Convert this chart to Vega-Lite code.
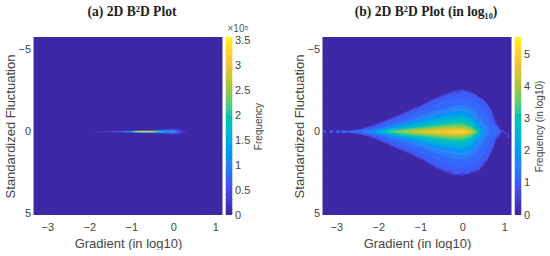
{
"$schema":"https://vega.github.io/schema/vega-lite/v6.json",
"padding":{"left":4.5,"top":5,"right":0,"bottom":0},
"background":"white",
"resolve":{"scale":{"color":"independent"}},
"config":{"view":{"stroke":null},"font":"Liberation Sans",
"axis":{"labelColor":"#454545","titleColor":"#454545","grid":false,"domain":false,"ticks":false,"labelFont":"Liberation Sans","titleFont":"Liberation Sans","titleFontWeight":"normal"},
"title":{"font":"Liberation Serif","fontWeight":"bold","fontSize":13.6,"color":"#222222"}},
"datasets":{
"a":[
{"g":-2,"v":0.08,"lo":-0.02,"hi":0.02},{"g":-1.6,"v":0.08,"lo":-0.05,"hi":0.05},{"g":-1,"v":0.08,"lo":-0.09,"hi":0.09},{"g":-0.5,"v":0.08,"lo":-0.13,"hi":0.13},{"g":-0.2,"v":0.08,"lo":-0.19,"hi":0.19},{"g":0,"v":0.08,"lo":-0.24,"hi":0.24},{"g":0.2,"v":0.08,"lo":-0.18,"hi":0.18},{"g":0.33,"v":0.08,"lo":-0.03,"hi":0.03},
{"g":-1.8,"v":0.2,"lo":-0.02,"hi":0.02},{"g":-1.4,"v":0.2,"lo":-0.05,"hi":0.05},{"g":-1,"v":0.2,"lo":-0.07,"hi":0.07},{"g":-0.6,"v":0.2,"lo":-0.1,"hi":0.1},{"g":-0.2,"v":0.2,"lo":-0.15,"hi":0.15},{"g":0,"v":0.2,"lo":-0.18,"hi":0.18},{"g":0.15,"v":0.2,"lo":-0.14,"hi":0.14},{"g":0.27,"v":0.2,"lo":-0.03,"hi":0.03},
{"g":-1.5,"v":0.5,"lo":-0.02,"hi":0.02},{"g":-1.2,"v":0.5,"lo":-0.04,"hi":0.04},{"g":-0.8,"v":0.5,"lo":-0.06,"hi":0.06},{"g":-0.4,"v":0.5,"lo":-0.09,"hi":0.09},{"g":-0.2,"v":0.5,"lo":-0.11,"hi":0.11},{"g":0,"v":0.5,"lo":-0.13,"hi":0.13},{"g":0.12,"v":0.5,"lo":-0.08,"hi":0.08},{"g":0.2,"v":0.5,"lo":-0.02,"hi":0.02},
{"g":-1.2,"v":1,"lo":-0.02,"hi":0.02},{"g":-0.8,"v":1,"lo":-0.05,"hi":0.05},{"g":-0.4,"v":1,"lo":-0.06,"hi":0.06},{"g":-0.2,"v":1,"lo":-0.08,"hi":0.08},{"g":0,"v":1,"lo":-0.09,"hi":0.09},{"g":0.1,"v":1,"lo":-0.03,"hi":0.03},
{"g":-1,"v":1.8,"lo":-0.03,"hi":0.03},{"g":-0.8,"v":1.8,"lo":-0.05,"hi":0.05},{"g":-0.6,"v":1.8,"lo":-0.055,"hi":0.055},{"g":-0.4,"v":1.8,"lo":-0.05,"hi":0.05},{"g":-0.2,"v":1.8,"lo":-0.03,"hi":0.03},
{"g":-0.95,"v":3,"lo":-0.015,"hi":0.015},{"g":-0.75,"v":3,"lo":-0.035,"hi":0.035},{"g":-0.55,"v":3,"lo":-0.035,"hi":0.035},{"g":-0.35,"v":3,"lo":-0.015,"hi":0.015}
],
"b":[
{"g":-2.7,"v":0.45,"lo":-0.05,"hi":0.05},{"g":-2.4,"v":0.45,"lo":-0.18,"hi":0.2},{"g":-2.2,"v":0.45,"lo":-0.36,"hi":0.34},{"g":-2,"v":0.45,"lo":-0.54,"hi":0.54},{"g":-1.8,"v":0.45,"lo":-0.74,"hi":0.75},{"g":-1.6,"v":0.45,"lo":-0.94,"hi":1},{"g":-1.4,"v":0.45,"lo":-1.16,"hi":1.2},{"g":-1.2,"v":0.45,"lo":-1.4,"hi":1.42},{"g":-1,"v":0.45,"lo":-1.6,"hi":1.68},{"g":-0.8,"v":0.45,"lo":-1.88,"hi":1.96},{"g":-0.6,"v":0.45,"lo":-2.12,"hi":2.26},{"g":-0.4,"v":0.45,"lo":-2.32,"hi":2.48},{"g":-0.2,"v":0.45,"lo":-2.52,"hi":2.66},{"g":0,"v":0.45,"lo":-2.6,"hi":2.7},{"g":0.2,"v":0.45,"lo":-2.45,"hi":2.56},{"g":0.4,"v":0.45,"lo":-2.14,"hi":2.4},{"g":0.6,"v":0.45,"lo":-1.72,"hi":1.76},{"g":0.7,"v":0.45,"lo":-1.3,"hi":1.26},{"g":0.8,"v":0.45,"lo":-0.6,"hi":0.55},{"g":0.9,"v":0.45,"lo":-0.2,"hi":0.22},{"g":0.95,"v":0.45,"lo":-0.05,"hi":0.05},
{"g":-2.8,"v":0.9,"lo":-0.05,"hi":0.05},{"g":-2.7,"v":0.9,"lo":-0.06,"hi":0.06},{"g":-2.6,"v":0.9,"lo":-0.08,"hi":0.08},{"g":-2.5,"v":0.9,"lo":-0.1,"hi":0.1},{"g":-2.4,"v":0.9,"lo":-0.14,"hi":0.16},{"g":-2.3,"v":0.9,"lo":-0.2,"hi":0.2},{"g":-2.2,"v":0.9,"lo":-0.28,"hi":0.26},{"g":-2.1,"v":0.9,"lo":-0.34,"hi":0.38},{"g":-2,"v":0.9,"lo":-0.46,"hi":0.44},{"g":-1.9,"v":0.9,"lo":-0.55,"hi":0.6},{"g":-1.8,"v":0.9,"lo":-0.68,"hi":0.65},{"g":-1.7,"v":0.9,"lo":-0.76,"hi":0.82},{"g":-1.6,"v":0.9,"lo":-0.88,"hi":0.9},{"g":-1.5,"v":0.9,"lo":-0.96,"hi":1.05},{"g":-1.4,"v":0.9,"lo":-1.08,"hi":1.12},{"g":-1.3,"v":0.9,"lo":-1.18,"hi":1.25},{"g":-1.2,"v":0.9,"lo":-1.3,"hi":1.32},{"g":-1.1,"v":0.9,"lo":-1.42,"hi":1.5},{"g":-1,"v":0.9,"lo":-1.52,"hi":1.58},{"g":-0.9,"v":0.9,"lo":-1.68,"hi":1.72},{"g":-0.8,"v":0.9,"lo":-1.78,"hi":1.88},{"g":-0.7,"v":0.9,"lo":-1.92,"hi":1.98},{"g":-0.6,"v":0.9,"lo":-2.02,"hi":2.18},{"g":-0.5,"v":0.9,"lo":-2.12,"hi":2.25},{"g":-0.4,"v":0.9,"lo":-2.22,"hi":2.4},{"g":-0.3,"v":0.9,"lo":-2.32,"hi":2.42},{"g":-0.2,"v":0.9,"lo":-2.42,"hi":2.55},{"g":-0.1,"v":0.9,"lo":-2.38,"hi":2.6},{"g":0,"v":0.9,"lo":-2.52,"hi":2.5},{"g":0.1,"v":0.9,"lo":-2.4,"hi":2.6},{"g":0.2,"v":0.9,"lo":-2.34,"hi":2.45},{"g":0.3,"v":0.9,"lo":-2.3,"hi":2.35},{"g":0.4,"v":0.9,"lo":-2.05,"hi":2.3},{"g":0.5,"v":0.9,"lo":-1.95,"hi":1.9},{"g":0.6,"v":0.9,"lo":-1.62,"hi":1.65},{"g":0.7,"v":0.9,"lo":-1.2,"hi":1.15},{"g":0.75,"v":0.9,"lo":-0.7,"hi":0.8},{"g":0.8,"v":0.9,"lo":-0.45,"hi":0.4},{"g":0.85,"v":0.9,"lo":-0.25,"hi":0.25},{"g":0.9,"v":0.9,"lo":-0.1,"hi":0.12},
{"g":-2.6,"v":1.1,"lo":-0.06,"hi":0.06},{"g":-2.4,"v":1.1,"lo":-0.08,"hi":0.08},{"g":-2.2,"v":1.1,"lo":-0.15,"hi":0.15},{"g":-2,"v":1.1,"lo":-0.3,"hi":0.3},{"g":-1.8,"v":1.1,"lo":-0.48,"hi":0.48},{"g":-1.6,"v":1.1,"lo":-0.65,"hi":0.68},{"g":-1.4,"v":1.1,"lo":-0.85,"hi":0.88},{"g":-1.2,"v":1.1,"lo":-1.05,"hi":1.1},{"g":-1,"v":1.1,"lo":-1.25,"hi":1.3},{"g":-0.8,"v":1.1,"lo":-1.5,"hi":1.55},{"g":-0.6,"v":1.1,"lo":-1.7,"hi":1.78},{"g":-0.4,"v":1.1,"lo":-1.9,"hi":2},{"g":-0.2,"v":1.1,"lo":-2.05,"hi":2.15},{"g":0,"v":1.1,"lo":-2.1,"hi":2.2},{"g":0.2,"v":1.1,"lo":-2,"hi":2.1},{"g":0.4,"v":1.1,"lo":-1.65,"hi":1.72},{"g":0.6,"v":1.1,"lo":-1.1,"hi":1.15},{"g":0.7,"v":1.1,"lo":-0.6,"hi":0.6},{"g":0.8,"v":1.1,"lo":-0.2,"hi":0.2},{"g":0.85,"v":1.1,"lo":-0.05,"hi":0.05},
{"g":-2.4,"v":1.45,"lo":-0.05,"hi":0.05},{"g":-2.2,"v":1.45,"lo":-0.1,"hi":0.1},{"g":-2,"v":1.45,"lo":-0.2,"hi":0.2},{"g":-1.8,"v":1.45,"lo":-0.33,"hi":0.33},{"g":-1.6,"v":1.45,"lo":-0.47,"hi":0.47},{"g":-1.4,"v":1.45,"lo":-0.62,"hi":0.62},{"g":-1.2,"v":1.45,"lo":-0.78,"hi":0.8},{"g":-1,"v":1.45,"lo":-0.95,"hi":0.98},{"g":-0.8,"v":1.45,"lo":-1.15,"hi":1.18},{"g":-0.6,"v":1.45,"lo":-1.3,"hi":1.35},{"g":-0.4,"v":1.45,"lo":-1.45,"hi":1.5},{"g":-0.2,"v":1.45,"lo":-1.6,"hi":1.65},{"g":0,"v":1.45,"lo":-1.65,"hi":1.7},{"g":0.2,"v":1.45,"lo":-1.5,"hi":1.55},{"g":0.4,"v":1.45,"lo":-1,"hi":1.05},{"g":0.6,"v":1.45,"lo":-0.3,"hi":0.3},{"g":0.65,"v":1.45,"lo":-0.05,"hi":0.05},
{"g":-2.3,"v":1.6,"lo":-0.05,"hi":0.05},{"g":-2,"v":1.6,"lo":-0.16,"hi":0.16},{"g":-1.8,"v":1.6,"lo":-0.27,"hi":0.27},{"g":-1.6,"v":1.6,"lo":-0.39,"hi":0.39},{"g":-1.4,"v":1.6,"lo":-0.53,"hi":0.53},{"g":-1.2,"v":1.6,"lo":-0.67,"hi":0.67},{"g":-1,"v":1.6,"lo":-0.82,"hi":0.82},{"g":-0.8,"v":1.6,"lo":-1,"hi":1},{"g":-0.6,"v":1.6,"lo":-1.15,"hi":1.15},{"g":-0.4,"v":1.6,"lo":-1.27,"hi":1.27},{"g":-0.2,"v":1.6,"lo":-1.4,"hi":1.4},{"g":0,"v":1.6,"lo":-1.45,"hi":1.45},{"g":0.2,"v":1.6,"lo":-1.3,"hi":1.3},{"g":0.4,"v":1.6,"lo":-0.75,"hi":0.75},{"g":0.55,"v":1.6,"lo":-0.15,"hi":0.15},
{"g":-2.2,"v":1.8,"lo":-0.05,"hi":0.05},{"g":-2,"v":1.8,"lo":-0.13,"hi":0.13},{"g":-1.8,"v":1.8,"lo":-0.22,"hi":0.22},{"g":-1.6,"v":1.8,"lo":-0.33,"hi":0.33},{"g":-1.4,"v":1.8,"lo":-0.45,"hi":0.45},{"g":-1.2,"v":1.8,"lo":-0.57,"hi":0.57},{"g":-1,"v":1.8,"lo":-0.7,"hi":0.7},{"g":-0.8,"v":1.8,"lo":-0.85,"hi":0.85},{"g":-0.6,"v":1.8,"lo":-1,"hi":1},{"g":-0.4,"v":1.8,"lo":-1.1,"hi":1.1},{"g":-0.2,"v":1.8,"lo":-1.2,"hi":1.2},{"g":0,"v":1.8,"lo":-1.25,"hi":1.25},{"g":0.2,"v":1.8,"lo":-1.1,"hi":1.1},{"g":0.4,"v":1.8,"lo":-0.5,"hi":0.5},{"g":0.5,"v":1.8,"lo":-0.1,"hi":0.1},
{"g":-2.1,"v":2.05,"lo":-0.05,"hi":0.05},{"g":-1.8,"v":2.05,"lo":-0.18,"hi":0.18},{"g":-1.6,"v":2.05,"lo":-0.28,"hi":0.28},{"g":-1.4,"v":2.05,"lo":-0.38,"hi":0.38},{"g":-1.2,"v":2.05,"lo":-0.49,"hi":0.49},{"g":-1,"v":2.05,"lo":-0.61,"hi":0.61},{"g":-0.8,"v":2.05,"lo":-0.74,"hi":0.74},{"g":-0.6,"v":2.05,"lo":-0.87,"hi":0.87},{"g":-0.4,"v":2.05,"lo":-0.96,"hi":0.96},{"g":-0.2,"v":2.05,"lo":-1.06,"hi":1.06},{"g":0,"v":2.05,"lo":-1.1,"hi":1.1},{"g":0.2,"v":2.05,"lo":-0.92,"hi":0.92},{"g":0.4,"v":2.05,"lo":-0.35,"hi":0.35},{"g":0.48,"v":2.05,"lo":-0.05,"hi":0.05},
{"g":-2,"v":2.3,"lo":-0.07,"hi":0.07},{"g":-1.8,"v":2.3,"lo":-0.14,"hi":0.14},{"g":-1.6,"v":2.3,"lo":-0.23,"hi":0.23},{"g":-1.4,"v":2.3,"lo":-0.32,"hi":0.32},{"g":-1.2,"v":2.3,"lo":-0.42,"hi":0.42},{"g":-1,"v":2.3,"lo":-0.52,"hi":0.52},{"g":-0.8,"v":2.3,"lo":-0.63,"hi":0.63},{"g":-0.6,"v":2.3,"lo":-0.74,"hi":0.74},{"g":-0.4,"v":2.3,"lo":-0.83,"hi":0.83},{"g":-0.2,"v":2.3,"lo":-0.92,"hi":0.92},{"g":0,"v":2.3,"lo":-0.95,"hi":0.95},{"g":0.2,"v":2.3,"lo":-0.75,"hi":0.75},{"g":0.4,"v":2.3,"lo":-0.2,"hi":0.2},{"g":0.45,"v":2.3,"lo":-0.05,"hi":0.05},
{"g":-1.9,"v":2.55,"lo":-0.05,"hi":0.05},{"g":-1.8,"v":2.55,"lo":-0.11,"hi":0.11},{"g":-1.6,"v":2.55,"lo":-0.19,"hi":0.19},{"g":-1.4,"v":2.55,"lo":-0.27,"hi":0.27},{"g":-1.2,"v":2.55,"lo":-0.36,"hi":0.36},{"g":-1,"v":2.55,"lo":-0.44,"hi":0.44},{"g":-0.8,"v":2.55,"lo":-0.54,"hi":0.54},{"g":-0.6,"v":2.55,"lo":-0.63,"hi":0.63},{"g":-0.4,"v":2.55,"lo":-0.72,"hi":0.72},{"g":-0.2,"v":2.55,"lo":-0.8,"hi":0.8},{"g":0,"v":2.55,"lo":-0.82,"hi":0.82},{"g":0.2,"v":2.55,"lo":-0.62,"hi":0.62},{"g":0.4,"v":2.55,"lo":-0.12,"hi":0.12},{"g":0.42,"v":2.55,"lo":-0.05,"hi":0.05},
{"g":-1.8,"v":2.8,"lo":-0.08,"hi":0.08},{"g":-1.6,"v":2.8,"lo":-0.15,"hi":0.15},{"g":-1.4,"v":2.8,"lo":-0.22,"hi":0.22},{"g":-1.2,"v":2.8,"lo":-0.3,"hi":0.3},{"g":-1,"v":2.8,"lo":-0.37,"hi":0.37},{"g":-0.8,"v":2.8,"lo":-0.45,"hi":0.45},{"g":-0.6,"v":2.8,"lo":-0.53,"hi":0.53},{"g":-0.4,"v":2.8,"lo":-0.61,"hi":0.61},{"g":-0.2,"v":2.8,"lo":-0.68,"hi":0.68},{"g":0,"v":2.8,"lo":-0.7,"hi":0.7},{"g":0.2,"v":2.8,"lo":-0.5,"hi":0.5},{"g":0.4,"v":2.8,"lo":-0.06,"hi":0.06},
{"g":-1.7,"v":3.05,"lo":-0.05,"hi":0.05},{"g":-1.6,"v":3.05,"lo":-0.11,"hi":0.11},{"g":-1.4,"v":3.05,"lo":-0.18,"hi":0.18},{"g":-1.2,"v":3.05,"lo":-0.25,"hi":0.25},{"g":-1,"v":3.05,"lo":-0.31,"hi":0.31},{"g":-0.8,"v":3.05,"lo":-0.38,"hi":0.38},{"g":-0.6,"v":3.05,"lo":-0.45,"hi":0.45},{"g":-0.4,"v":3.05,"lo":-0.52,"hi":0.52},{"g":-0.2,"v":3.05,"lo":-0.58,"hi":0.58},{"g":0,"v":3.05,"lo":-0.6,"hi":0.6},{"g":0.2,"v":3.05,"lo":-0.4,"hi":0.4},{"g":0.38,"v":3.05,"lo":-0.05,"hi":0.05},
{"g":-1.8,"v":3.3,"lo":-0.04,"hi":0.04},{"g":-1.6,"v":3.3,"lo":-0.08,"hi":0.08},{"g":-1.4,"v":3.3,"lo":-0.14,"hi":0.14},{"g":-1.2,"v":3.3,"lo":-0.2,"hi":0.2},{"g":-1,"v":3.3,"lo":-0.26,"hi":0.26},{"g":-0.8,"v":3.3,"lo":-0.32,"hi":0.32},{"g":-0.6,"v":3.3,"lo":-0.38,"hi":0.38},{"g":-0.4,"v":3.3,"lo":-0.44,"hi":0.44},{"g":-0.2,"v":3.3,"lo":-0.49,"hi":0.49},{"g":0,"v":3.3,"lo":-0.5,"hi":0.5},{"g":0.2,"v":3.3,"lo":-0.32,"hi":0.32},{"g":0.35,"v":3.3,"lo":-0.05,"hi":0.05},
{"g":-1.5,"v":3.55,"lo":-0.05,"hi":0.05},{"g":-1.4,"v":3.55,"lo":-0.1,"hi":0.1},{"g":-1.2,"v":3.55,"lo":-0.16,"hi":0.16},{"g":-1,"v":3.55,"lo":-0.21,"hi":0.21},{"g":-0.8,"v":3.55,"lo":-0.26,"hi":0.26},{"g":-0.6,"v":3.55,"lo":-0.32,"hi":0.32},{"g":-0.4,"v":3.55,"lo":-0.37,"hi":0.37},{"g":-0.2,"v":3.55,"lo":-0.41,"hi":0.41},{"g":0,"v":3.55,"lo":-0.41,"hi":0.41},{"g":0.2,"v":3.55,"lo":-0.25,"hi":0.25},{"g":0.33,"v":3.55,"lo":-0.04,"hi":0.04},
{"g":-1.6,"v":3.8,"lo":-0.03,"hi":0.03},{"g":-1.4,"v":3.8,"lo":-0.07,"hi":0.07},{"g":-1.2,"v":3.8,"lo":-0.12,"hi":0.12},{"g":-1,"v":3.8,"lo":-0.17,"hi":0.17},{"g":-0.8,"v":3.8,"lo":-0.21,"hi":0.21},{"g":-0.6,"v":3.8,"lo":-0.26,"hi":0.26},{"g":-0.4,"v":3.8,"lo":-0.3,"hi":0.3},{"g":-0.2,"v":3.8,"lo":-0.33,"hi":0.33},{"g":0,"v":3.8,"lo":-0.33,"hi":0.33},{"g":0.2,"v":3.8,"lo":-0.18,"hi":0.18},{"g":0.3,"v":3.8,"lo":-0.03,"hi":0.03},
{"g":-1.2,"v":4.05,"lo":-0.05,"hi":0.05},{"g":-1,"v":4.05,"lo":-0.11,"hi":0.11},{"g":-0.8,"v":4.05,"lo":-0.16,"hi":0.16},{"g":-0.6,"v":4.05,"lo":-0.2,"hi":0.2},{"g":-0.4,"v":4.05,"lo":-0.24,"hi":0.24},{"g":-0.2,"v":4.05,"lo":-0.27,"hi":0.27},{"g":0,"v":4.05,"lo":-0.27,"hi":0.27},{"g":0.2,"v":4.05,"lo":-0.13,"hi":0.13},{"g":0.28,"v":4.05,"lo":-0.03,"hi":0.03},
{"g":-1.2,"v":4.3,"lo":-0.03,"hi":0.03},{"g":-1,"v":4.3,"lo":-0.07,"hi":0.07},{"g":-0.8,"v":4.3,"lo":-0.11,"hi":0.11},{"g":-0.6,"v":4.3,"lo":-0.15,"hi":0.15},{"g":-0.4,"v":4.3,"lo":-0.19,"hi":0.19},{"g":-0.2,"v":4.3,"lo":-0.22,"hi":0.22},{"g":0,"v":4.3,"lo":-0.22,"hi":0.22},{"g":0.2,"v":4.3,"lo":-0.08,"hi":0.08},{"g":0.25,"v":4.3,"lo":-0.02,"hi":0.02},
{"g":-0.8,"v":4.7,"lo":-0.03,"hi":0.03},{"g":-0.6,"v":4.7,"lo":-0.05,"hi":0.05},{"g":-0.4,"v":4.7,"lo":-0.09,"hi":0.09},{"g":-0.2,"v":4.7,"lo":-0.13,"hi":0.13},{"g":0,"v":4.7,"lo":-0.13,"hi":0.13},{"g":0.15,"v":4.7,"lo":-0.03,"hi":0.03},
{"g":-0.3,"v":5,"lo":-0.03,"hi":0.03},{"g":-0.1,"v":5,"lo":-0.06,"hi":0.06},{"g":0,"v":5,"lo":-0.06,"hi":0.06},{"g":0.1,"v":5,"lo":-0.02,"hi":0.02}
],
"dots":[
{"g":-3.31,"g2":-3.25,"lo":-0.08,"hi":0.08,"v":0.8},{"g":-3.16,"g2":-3.09,"lo":-0.08,"hi":0.08,"v":1},{"g":-3,"g2":-2.92,"lo":-0.08,"hi":0.08,"v":1},{"g":-2.88,"g2":-2.78,"lo":-0.08,"hi":0.08,"v":1.1},
{"g":0.93,"g2":0.98,"lo":-0.1,"hi":0.05,"v":0.7},{"g":1.0,"g2":1.05,"lo":0,"hi":0.15,"v":0.7},{"g":1.06,"g2":1.1,"lo":0.12,"hi":0.4,"v":0.6}
],
"cb1":[{"v":0,"w":0.12},{"v":0.1,"w":0.22},{"v":0.2,"w":0.32},{"v":0.3,"w":0.42},{"v":0.4,"w":0.52},{"v":0.5,"w":0.62},{"v":0.6,"w":0.72},{"v":0.7,"w":0.82},{"v":0.8,"w":0.92},{"v":0.9,"w":1.02},{"v":1,"w":1.12},{"v":1.1,"w":1.22},{"v":1.2,"w":1.32},{"v":1.3,"w":1.42},{"v":1.4,"w":1.52},{"v":1.5,"w":1.62},{"v":1.6,"w":1.72},{"v":1.7,"w":1.82},{"v":1.8,"w":1.92},{"v":1.9,"w":2.02},{"v":2,"w":2.12},{"v":2.1,"w":2.22},{"v":2.2,"w":2.32},{"v":2.3,"w":2.42},{"v":2.4,"w":2.52},{"v":2.5,"w":2.62},{"v":2.6,"w":2.72},{"v":2.7,"w":2.82},{"v":2.8,"w":2.92},{"v":2.9,"w":3.02},{"v":3,"w":3.12},{"v":3.1,"w":3.22},{"v":3.2,"w":3.32},{"v":3.3,"w":3.42},{"v":3.4,"w":3.52},{"v":3.5,"w":3.56}],
"cb2":[{"v":0,"w":0.18},{"v":0.15,"w":0.33},{"v":0.3,"w":0.48},{"v":0.45,"w":0.63},{"v":0.6,"w":0.78},{"v":0.75,"w":0.93},{"v":0.9,"w":1.08},{"v":1.05,"w":1.23},{"v":1.2,"w":1.38},{"v":1.35,"w":1.53},{"v":1.5,"w":1.68},{"v":1.65,"w":1.83},{"v":1.8,"w":1.98},{"v":1.95,"w":2.13},{"v":2.1,"w":2.28},{"v":2.25,"w":2.43},{"v":2.4,"w":2.58},{"v":2.55,"w":2.73},{"v":2.7,"w":2.88},{"v":2.85,"w":3.03},{"v":3,"w":3.18},{"v":3.15,"w":3.33},{"v":3.3,"w":3.48},{"v":3.45,"w":3.63},{"v":3.6,"w":3.78},{"v":3.75,"w":3.93},{"v":3.9,"w":4.08},{"v":4.05,"w":4.23},{"v":4.2,"w":4.38},{"v":4.35,"w":4.53},{"v":4.5,"w":4.68},{"v":4.65,"w":4.83},{"v":4.8,"w":4.98},{"v":4.95,"w":5.13},{"v":5.1,"w":5.28},{"v":5.25,"w":5.43},{"v":5.4,"w":5.55}]
},
"spacing":3,
"bounds":"flush",
"hconcat":[
{"width":189,"height":178,"view":{"fill":"#3d27a5","stroke":null},
 "title":{"text":"(a) 2D B²D Plot","dx":4,"offset":18},
 "data":{"name":"a"},
 "mark":{"type":"area","interpolate":"linear","clip":true},
 "encoding":{
  "x":{"field":"g","type":"quantitative","scale":{"domain":[-3.33,1.17],"nice":false,"zero":false},"axis":{"values":[-3,-2,-1,0,1],"title":"Gradient (in log10)","labelFontSize":11,"titleFontSize":13,"labelPadding":6,"titlePadding":5}},
  "y":{"field":"lo","type":"quantitative","scale":{"domain":[-5.78,5.09],"reverse":true,"nice":false,"zero":false},"axis":{"values":[-5,0,5],"title":"Standardized Fluctuation","labelFontSize":11,"titleFontSize":13,"labelPadding":3,"titlePadding":0}},
  "y2":{"field":"hi"},
  "detail":{"field":"v"},
  "color":{"field":"v","type":"quantitative","legend":null,"scale":{"domain":[0,0.5086,1.0171,1.5257,2.0343,2.5429,3.0514,3.56],"range":["#3d27a5","#4752f4","#2d87f7","#12b1d6","#37c897","#abc739","#fec338","#f9fb15"]}}
 }},
{"width":7,"height":178,
 "title":{"text":"×10⁵","anchor":"start","dx":2,"offset":0,"font":"Liberation Sans","fontWeight":"normal","fontSize":10,"color":"#555555"},
 "data":{"name":"cb1"},
 "mark":{"type":"rect","clip":true},
 "encoding":{
  "y":{"field":"v","type":"quantitative","scale":{"domain":[0,3.56],"nice":false,"zero":false},"axis":{"orient":"right","values":[0,0.5,1,1.5,2,2.5,3,3.5],"format":"~g","title":"Frequency","titleAngle":270,"labelFontSize":11,"titleFontSize":10,"labelPadding":2,"titlePadding":14}},
  "y2":{"field":"w"},
  "color":{"field":"v","type":"quantitative","legend":null,"scale":{"domain":[0,0.5086,1.0171,1.5257,2.0343,2.5429,3.0514,3.56],"range":["#3d27a5","#4752f4","#2d87f7","#12b1d6","#37c897","#abc739","#fec338","#f9fb15"]}}
 }},
{"width":84,"height":178,"data":{"values":[{"v":0}]},"mark":{"type":"rect","opacity":0},"encoding":{}},
{"width":189,"height":178,"view":{"fill":"#3d27a5","stroke":null},
 "title":{"text":"(b) 2D B²D Plot (in log₁₀)","dx":9,"offset":18},
 "layer":[
 {"data":{"name":"b"},
 "mark":{"type":"area","interpolate":"linear","clip":true},
 "encoding":{
  "x":{"field":"g","type":"quantitative","scale":{"domain":[-3.33,1.17],"nice":false,"zero":false},"axis":{"values":[-3,-2,-1,0,1],"title":"Gradient (in log10)","labelFontSize":11,"titleFontSize":13,"labelPadding":6,"titlePadding":5}},
  "y":{"field":"lo","type":"quantitative","scale":{"domain":[-5.78,5.09],"reverse":true,"nice":false,"zero":false},"axis":{"values":[-5,0,5],"title":"Standardized Fluctuation","labelFontSize":11,"titleFontSize":13,"labelPadding":3,"titlePadding":0}},
  "y2":{"field":"hi"},
  "detail":{"field":"v"},
  "color":{"field":"v","type":"quantitative","legend":null,"scale":{"domain":[0,0.7929,1.5857,2.3786,3.1714,3.9643,4.7571,5.55],"range":["#3d27a5","#4752f4","#2d87f7","#12b1d6","#37c897","#abc739","#fec338","#f9fb15"]}}
 }},
 {"data":{"name":"dots"},
 "mark":{"type":"rect","clip":true},
 "encoding":{
  "x":{"field":"g","type":"quantitative"},
  "x2":{"field":"g2"},
  "y":{"field":"lo","type":"quantitative"},
  "y2":{"field":"hi"},
  "color":{"field":"v","type":"quantitative"}
 }}
 ]},
{"width":7,"height":178,
 "data":{"name":"cb2"},
 "mark":{"type":"rect","clip":true},
 "encoding":{
  "y":{"field":"v","type":"quantitative","scale":{"domain":[0,5.55],"nice":false,"zero":false},"axis":{"orient":"right","values":[0,1,2,3,4,5],"title":"Frequency (in log10)","titleAngle":270,"labelFontSize":11,"titleFontSize":10,"labelPadding":2,"titlePadding":15}},
  "y2":{"field":"w"},
  "color":{"field":"v","type":"quantitative","legend":null,"scale":{"domain":[0,0.7929,1.5857,2.3786,3.1714,3.9643,4.7571,5.55],"range":["#3d27a5","#4752f4","#2d87f7","#12b1d6","#37c897","#abc739","#fec338","#f9fb15"]}}
 }}
]
}
